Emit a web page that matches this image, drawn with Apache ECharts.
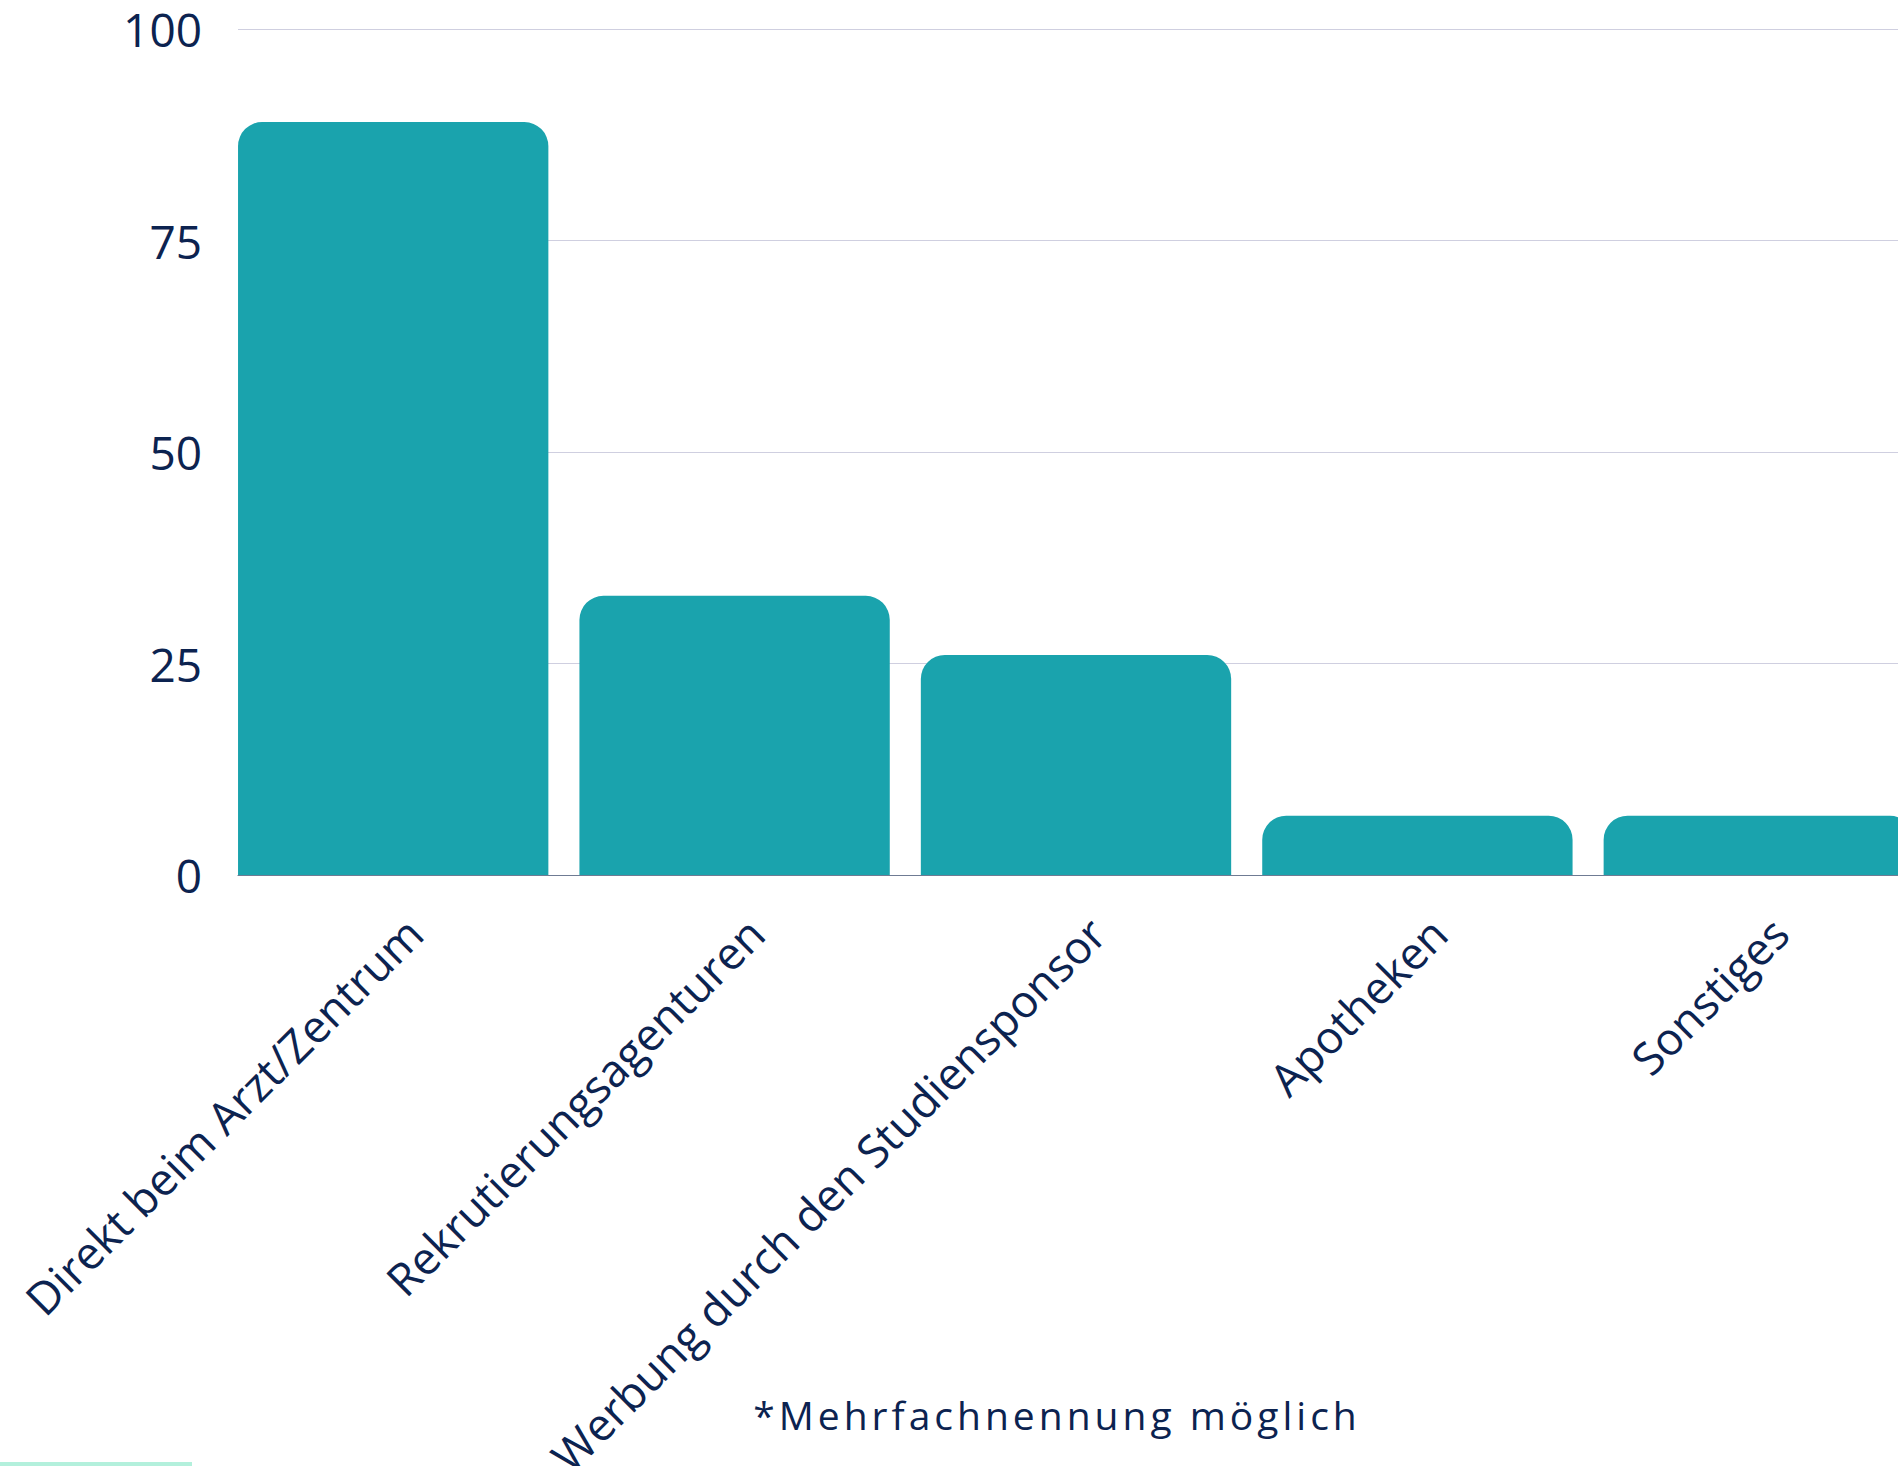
<!DOCTYPE html>
<html>
<head>
<meta charset="utf-8">
<title>Rekrutierungswege</title>
<script src="https://cdn.jsdelivr.net/npm/echarts@6/dist/echarts.min.js"></script>
<style>
  html, body { margin: 0; padding: 0; background: #ffffff; }
  #chart { width: 1898px; height: 1466px; }
</style>
</head>
<body>
<div id="chart"></div>
<script>
// Recruitment channels (percent of mentions, multiple answers allowed)
const categories = [
  'Direkt beim Arzt/Zentrum',
  'Rekrutierungsagenturen',
  'Werbung durch den Studiensponsor',
  'Apotheken',
  'Sonstiges'
];
const values = [89, 33, 26, 7, 7];
const yTicks = [0, 25, 50, 75, 100];
const footnote = '*Mehrfachnennung möglich';

const NAVY = '#0c2350';
const TEAL = '#1aa3ad';
const FONT = '"Open Sans", "Noto Sans", sans-serif';

const chart = echarts.init(document.getElementById('chart'), null, { renderer: 'svg' });

const plotTop = 29;
const plotHeight = 846;
const bandWidth = 341.4;
const bandsLeft = 222.5;
const labelShift = 21;

const gridBase = { top: plotTop, height: plotHeight, containLabel: false, outerBoundsMode: 'none' };

chart.setOption({
  animation: false,
  backgroundColor: '#ffffff',
  grid: [
    // grid 0: value axis, gridlines and baseline
    Object.assign({ left: bandsLeft + 15.5, width: bandWidth * 5 - 15.5 }, gridBase),
    // grid 1: category bands for the bars
    Object.assign({ left: bandsLeft, width: bandWidth * 5 }, gridBase),
    // grid 2: category labels, set slightly right of the band centres
    Object.assign({ left: bandsLeft + labelShift, width: bandWidth * 5 }, gridBase)
  ],
  xAxis: [
    {
      gridIndex: 0, type: 'value', min: 0, max: 1,
      axisLine: { show: true, onZero: false, lineStyle: { color: '#6f7b93', width: 1.2 } },
      axisTick: { show: false }, axisLabel: { show: false }, splitLine: { show: false }
    },
    {
      gridIndex: 1, type: 'category', data: categories, boundaryGap: true,
      axisLine: { show: false }, axisTick: { show: false }, splitLine: { show: false },
      axisLabel: { show: false }
    },
    {
      gridIndex: 2, type: 'category', data: categories, boundaryGap: true,
      axisLine: { show: false }, axisTick: { show: false }, splitLine: { show: false },
      axisLabel: {
        interval: 0, rotate: 45, margin: 50,
        color: NAVY, fontFamily: FONT, fontSize: 45, fontWeight: 500
      }
    }
  ],
  yAxis: [
    {
      gridIndex: 0, type: 'value', min: yTicks[0], max: yTicks[yTicks.length - 1], interval: 25,
      axisLine: { show: false }, axisTick: { show: false },
      axisLabel: { margin: 36, color: NAVY, fontFamily: FONT, fontSize: 46, fontWeight: 500 },
      splitLine: { show: true, lineStyle: { color: '#cfcfe0', width: 1.2 } }
    },
    { gridIndex: 1, type: 'value', min: 0, max: 100, show: false, splitLine: { show: false } },
    { gridIndex: 2, type: 'value', min: 0, max: 100, show: false, splitLine: { show: false } }
  ],
  series: [
    {
      type: 'bar',
      xAxisIndex: 1, yAxisIndex: 1,
      data: values,
      barCategoryGap: '9.1%',
      itemStyle: { color: TEAL, borderRadius: [24, 24, 0, 0] },
      z: 1
    }
  ],
  graphic: [
    {
      type: 'text',
      x: 1057, y: 1414,
      style: {
        text: footnote,
        fill: NAVY,
        font: '400 39px ' + FONT,
        textAlign: 'center',
        textVerticalAlign: 'middle'
      }
    },
    {
      type: 'rect',
      shape: { x: 0, y: 1462, width: 192, height: 4 },
      style: { fill: '#b3f0dc' }
    }
  ]
});

// widen the tracking of the footnote line
document.querySelectorAll('#chart text').forEach(function (t) {
  if (t.textContent === footnote) {
    t.style.letterSpacing = '4px';
  }
});
</script>
</body>
</html>
